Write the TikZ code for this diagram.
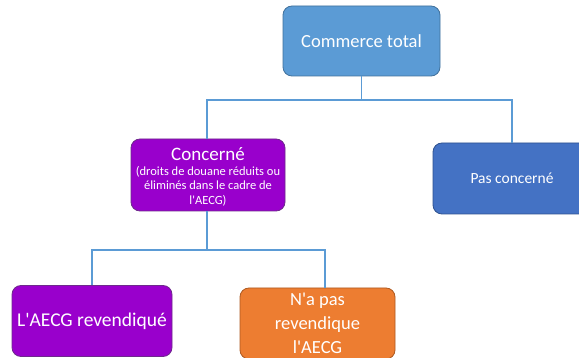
\documentclass[tikz,border=0pt]{standalone}
\usepackage{fontspec}
\setmainfont{Carlito}
\definecolor{cblue}{HTML}{5B9BD5}
\definecolor{cblueb}{HTML}{41719C}
\definecolor{cpurp}{HTML}{9900CC}
\definecolor{cpurpb}{HTML}{6E2A8C}
\definecolor{cdblue}{HTML}{4472C4}
\definecolor{cdblueb}{HTML}{2F528F}
\definecolor{corange}{HTML}{ED7D31}
\definecolor{coranb}{HTML}{AE5A21}
\newcommand{\aq}{\textquotesingle}
\begin{document}
\begin{tikzpicture}[x=1pt,y=-1pt,
  box/.style={rounded corners=9pt, line width=0.8pt, text=white, align=center, inner sep=0pt},
  conn/.style={draw=cblue, line width=1.5pt}]
\useasboundingbox (0,0) rectangle (579,358);
\fill[white] (0,0) rectangle (579,358);
\begin{scope}
\clip (0,0) rectangle (579,358);
\node[box, fill=cblue, draw=cblueb, minimum width=157pt, minimum height=70pt, font=\fontsize{18.5}{20}\selectfont] (top) at (361.5,41) {Commerce total};
\node[box, fill=cpurp, draw=cpurpb, minimum width=154pt, minimum height=72pt] (conc) at (208,175) {};
\node[text=white, align=center, inner sep=0pt, font=\fontsize{12.5}{14.5}\selectfont] (concT) at (208,177)
  {{\fontsize{19}{14.5}\selectfont Concerné}\\(droits de douane réduits ou\\éliminés dans le cadre de\\l\aq AECG)};
\node[box, fill=cdblue, draw=cdblueb, minimum width=158pt, minimum height=71pt, font=\fontsize{15.5}{18}\selectfont] (pas) at (512,178.5) {Pas concerné};
\node[box, fill=cpurp, draw=cpurpb, minimum width=160pt, minimum height=71pt, font=\fontsize{19.5}{22}\selectfont] (rev) at (92,321) {L\aq AECG revendiqué};
\node[box, fill=corange, draw=coranb, minimum width=155pt, minimum height=71pt, font=\fontsize{18.5}{24}\selectfont] (nrev) at (317.5,323.5) {N\aq a pas\\revendique\\l\aq AECG};
\end{scope}
\coordinate (j1) at (361.5,100);
\coordinate (j2) at (207,250);
\draw[conn] (top.south) -- (j1);
\draw[conn] (conc.north -| j2) |- (j1);
\draw[conn] (pas.north) |- (j1);
\draw[conn] (conc.south -| j2) -- (j2);
\draw[conn] (rev.north) |- (j2);
\draw[conn] (nrev.north -| 325,0) |- (j2);
\end{tikzpicture}
\end{document}
